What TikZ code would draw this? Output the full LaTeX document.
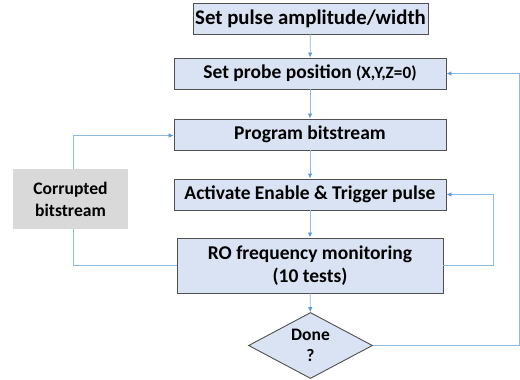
\documentclass[tikz,border=0pt]{standalone}
\usepackage{fontspec}
\setmainfont{Carlito}
\usetikzlibrary{shapes.geometric,arrows.meta}
\definecolor{boxfill}{HTML}{DAE3F3}
\definecolor{boxline}{HTML}{505050}
\definecolor{conn}{HTML}{8DBAE2}
\definecolor{tipc}{HTML}{5B9BD5}
\definecolor{grayfill}{HTML}{D9D9D9}
\begin{document}
\begin{tikzpicture}[x=1pt,y=-1pt,
  stepbox/.style={draw=boxline,line width=0.9pt,fill=boxfill,inner sep=0pt,font=\bfseries\fontsize{19.5}{23}\selectfont,align=center},
  conline/.style={draw=conn,line width=0.8pt},
  arr/.style={conline,-{Latex[length=5pt,width=4.5pt,color=tipc]}}]
\useasboundingbox (0,0) rectangle (520,380);
\node[stepbox,minimum width=235pt,minimum height=31pt,font=\bfseries\fontsize{20.8}{24}\selectfont] (b1) at (310.5,18.5) {Set pulse amplitude/width};
\node[stepbox,minimum width=272pt,minimum height=31pt] (b2) at (310,73.5) {Set probe position {\fontsize{17.2}{20}\selectfont(X,Y,Z=0)}};
\node[stepbox,minimum width=272pt,minimum height=31pt] (b3) at (310,134.5) {Program bitstream};
\node[stepbox,minimum width=272pt,minimum height=31pt] (b4) at (310,194.5) {Activate Enable \& Trigger pulse};
\node[stepbox,minimum width=266pt,minimum height=55pt] (b5) at (310,265.5) {RO frequency monitoring\\(10 tests)};
\node[diamond,draw=boxline,line width=0.9pt,fill=boxfill,minimum width=124pt,minimum height=66pt,inner sep=0pt,aspect=1.9,font=\bfseries\fontsize{17.5}{21}\selectfont,align=center] (d) at (310.5,345.5) {Done\\?};
\node[fill=grayfill,minimum width=115pt,minimum height=60pt,inner sep=0pt,font=\bfseries\fontsize{17.6}{22}\selectfont,align=center] (c) at (70.5,199) {Corrupted\\bitstream};
\coordinate (r1) at (519,345.5);
\coordinate (r2) at (519,73.5);
\coordinate (i1) at (493,265.5);
\coordinate (i2) at (493,194.5);
\coordinate (l1) at (73,265.5);
\coordinate (l2) at (73,135.5);
\draw[arr] (b1) -- (b2);
\draw[arr] (b2) -- (b3);
\draw[arr] (b3) -- (b4);
\draw[arr] (b4) -- (b5);
\draw[arr] (b5) -- (d);
\draw[arr] (d.east) -- (r1) -- (r2) -- (b2.east);
\draw[arr] (b5.east) -- (i1) -- (i2) -- (b4.east);
\draw[conline] (b5.west) -- (l1) -- (c.south -| l1);
\draw[arr] (c.north -| l2) -- (l2) -- (b3.west |- l2);
\end{tikzpicture}
\end{document}
